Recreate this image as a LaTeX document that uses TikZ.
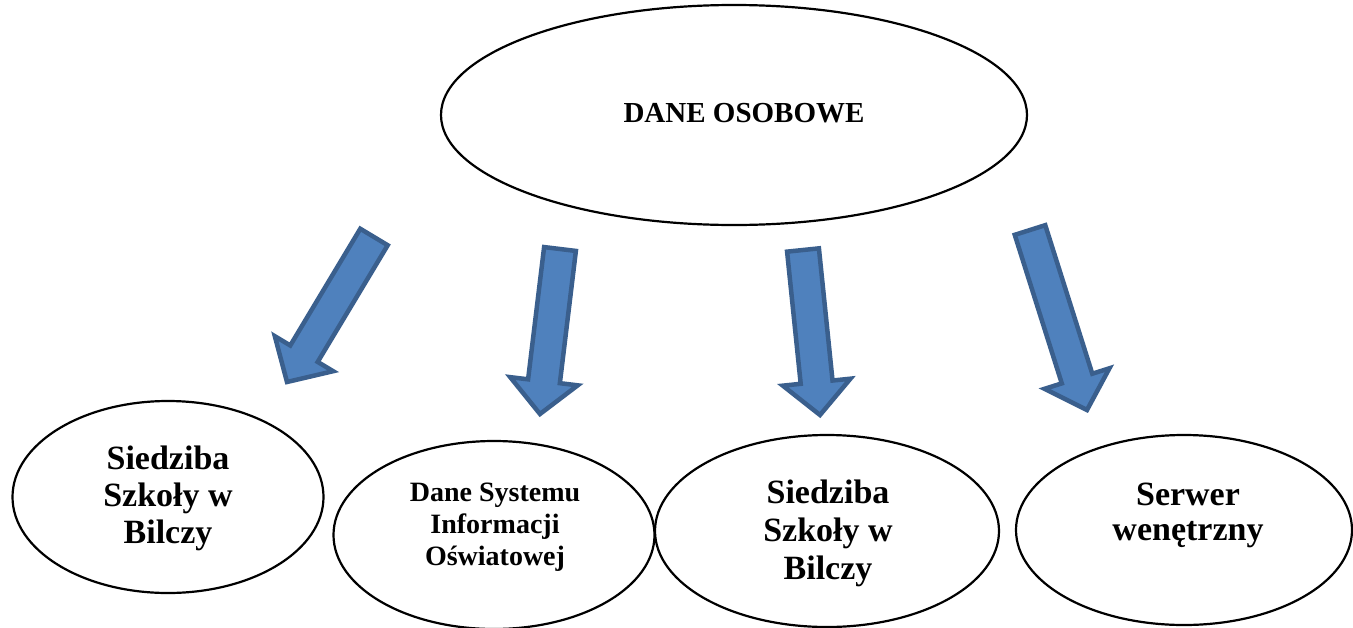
\documentclass[tikz,border=0pt]{standalone}
\usepackage{fontspec}
\setmainfont{Liberation Serif}
\usetikzlibrary{shapes.geometric, calc}

\definecolor{arrfill}{HTML}{4F81BD}
\definecolor{arrline}{HTML}{3A5F8D}

% block arrow from coordinate #1 (tail) to coordinate #2 (tip)
\newcommand\blockarrow[2]{%
  \coordinate (#1-b) at ($(#2)!33pt!(#1)$);
  \draw[blockarr] ($(#1)!16pt!90:(#2)$) -- ($(#1-b)!16pt!90:(#2)$)
    -- ($(#1-b)!34pt!90:(#2)$) -- (#2) -- ($(#1-b)!34pt!-90:(#2)$)
    -- ($(#1-b)!16pt!-90:(#2)$) -- ($(#1)!16pt!-90:(#2)$) -- cycle;
}

\begin{document}
\begin{tikzpicture} [
  x=1pt,
  y=-1pt,
  oval/.style={draw, ellipse, line width=2.2pt, inner sep=0pt},
  ovaltext/.style={align=center, font=\bfseries\fontsize{34}{37}\selectfont},
  blockarr/.style={fill=arrfill, draw=arrline, line width=4.5pt}
  ]
  \useasboundingbox (0,0) rectangle (1353,627);

  \node(dane)[oval, minimum width=586pt, minimum height=220pt, at={(734,115)}]{};
  \node(siedziba1)[oval, minimum width=311pt, minimum height=192pt, at={(168,497)}]{};
  \node(sio)[oval, minimum width=321pt, minimum height=188pt, at={(494,535)}]{};
  \node(siedziba2)[oval, minimum width=344pt, minimum height=192pt, at={(827,531)}]{};
  \node(serwer)[oval, minimum width=336pt, minimum height=190pt, at={(1184,530)}]{};

  \node(dane-txt)[ovaltext, font=\bfseries\fontsize{29}{33}\selectfont, at={(744,113)}]{DANE OSOBOWE};
  \node(siedziba1-txt)[ovaltext, at={(168,498)}]{Siedziba\\Szkoły w\\Bilczy};
  \node(sio-txt)[ovaltext, font=\bfseries\fontsize{28}{32}\selectfont, at={(495,527)}]{Dane Systemu\\Informacji\\Oświatowej};
  \node(siedziba2-txt)[ovaltext, font=\bfseries\fontsize{34}{38}\selectfont, at={(828,533)}]{Siedziba\\Szkoły w\\Bilczy};
  \node(serwer-txt)[ovaltext, font=\bfseries\fontsize{34}{35}\selectfont, at={(1188,515)}]{Serwer\\wenętrzny};

  \coordinate (a1) at (374,237);
  \coordinate (a1-tip) at (287,382);
  \coordinate (a2) at (560,249);
  \coordinate (a2-tip) at (540,414);
  \coordinate (a3) at (803,250);
  \coordinate (a3-tip) at (820,415);
  \coordinate (a4) at (1030,230);
  \coordinate (a4-tip) at (1087,410);

  \blockarrow{a1}{a1-tip}
  \blockarrow{a2}{a2-tip}
  \blockarrow{a3}{a3-tip}
  \blockarrow{a4}{a4-tip}
\end{tikzpicture}
\end{document}
